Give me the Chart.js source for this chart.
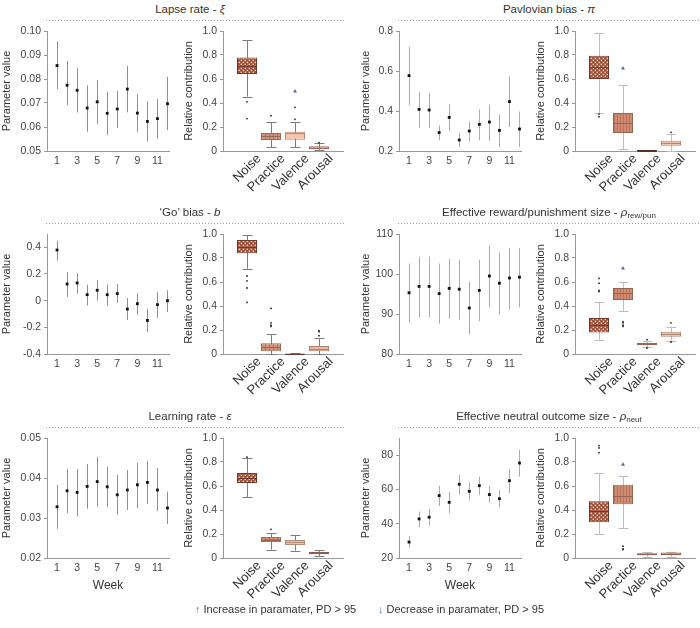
<!DOCTYPE html>
<html>
<head>
<meta charset="utf-8">
<script src="https://cdn.jsdelivr.net/npm/chart.js@4.4.1/dist/chart.umd.min.js"></script>
<style>
  body { margin: 0; width: 700px; height: 628px; position: relative; overflow: hidden; background: #fff;
         font-family: "Liberation Sans", Arial, sans-serif; color: #333; }
  canvas { position: absolute; }
  .title { position: absolute; font-size: 11.5px; line-height: 14px; white-space: nowrap; transform: translateX(-50%); }
  .title sub { font-size: 8px; line-height: 0; vertical-align: -2px; }
  .dash { position: absolute; height: 1px;
          background-image: linear-gradient(to right, #9a9a9a 50%, transparent 50%); background-size: 3px 1px; }
  .foot { position: absolute; top: 603px; font-size: 11px; line-height: 12px; white-space: nowrap; }
  .arr { color: #5a7aa0; }
</style>
</head>
<body>

<script>
// ---- data ----
const weeks = [1, 2, 3, 4, 5, 6, 7, 8, 9, 10, 11, 12];
const weekTicks = [1, 3, 5, 7, 9, 11];
const components = ['Noise', 'Practice', 'Valence', 'Arousal'];
const contribTicks = [0, 0.2, 0.4, 0.6, 0.8, 1.0];

// Lapse rate
const lapseTicks = [0.05, 0.06, 0.07, 0.08, 0.09, 0.10];
const lapseMean = [0.0856, 0.0774, 0.0753, 0.0679, 0.0705, 0.0657, 0.0675, 0.0758, 0.0658, 0.0623, 0.0635, 0.0697];
const lapseLow  = [0.0758, 0.0691, 0.0661, 0.0580, 0.0612, 0.0566, 0.0596, 0.0661, 0.0578, 0.0540, 0.0551, 0.0587];
const lapseHigh = [0.0957, 0.0875, 0.0845, 0.0774, 0.0795, 0.0747, 0.0751, 0.0855, 0.0737, 0.0706, 0.0716, 0.0809];
// box stats per component: [lower whisker, q1, median, q3, upper whisker]
const lapseBox = [[0.453, 0.642, 0.71, 0.78, 0.922], [0.031, 0.092, 0.122, 0.150, 0.239],
                  [0.033, 0.094, 0.147, 0.161, 0.239], [0.006, 0.017, 0.028, 0.039, 0.067]];
const lapseOutliers = [[1, 0.41], [1, 0.27], [2, 0.294], [3, 0.364], [3, 0.264], [4, 0.069]];
const lapseArrows = [[3, 0.497]];

// Pavlovian bias
const pavTicks = [0.2, 0.4, 0.6, 0.8];
const pavMean = [0.577, 0.408, 0.405, 0.292, 0.368, 0.255, 0.300, 0.333, 0.345, 0.303, 0.447, 0.310];
const pavLow  = [0.430, 0.315, 0.315, 0.253, 0.300, 0.220, 0.248, 0.253, 0.250, 0.220, 0.320, 0.220];
const pavHigh = [0.720, 0.498, 0.490, 0.328, 0.433, 0.290, 0.348, 0.408, 0.432, 0.383, 0.573, 0.398];
const pavBox = [[0.317, 0.600, 0.70, 0.794, 0.983], [0.014, 0.150, 0.231, 0.317, 0.550],
                [0.000, 0.001, 0.004, 0.008, 0.010], [0.000, 0.044, 0.069, 0.086, 0.142]];
const pavOutliers = [[1, 0.308], [1, 0.286], [4, 0.156]];
const pavArrows = [[2, 0.689]];

// 'Go' bias
const goTicks = [-0.4, -0.2, 0, 0.2, 0.4];
const goMean = [0.380, 0.125, 0.133, 0.045, 0.078, 0.045, 0.053, -0.063, -0.023, -0.148, -0.030, 0.000];
const goLow  = [0.300, 0.028, 0.053, -0.035, 0.000, -0.038, -0.018, -0.145, -0.105, -0.235, -0.130, -0.085];
const goHigh = [0.450, 0.215, 0.205, 0.120, 0.153, 0.123, 0.125, 0.020, 0.055, -0.060, 0.063, 0.078];
const goBox = [[0.71, 0.84, 0.89, 0.95, 0.99], [0.000, 0.022, 0.061, 0.089, 0.167],
               [0.000, 0.001, 0.002, 0.004, 0.006], [0.000, 0.022, 0.044, 0.067, 0.130]];
const goOutliers = [[1, 0.65], [1, 0.61], [1, 0.55], [1, 0.43], [2, 0.38], [2, 0.26], [2, 0.24], [2, 0.23],
                    [4, 0.186], [4, 0.194], [4, 0.153]];
const goArrows = [];

// Effective reward/punishment size
const rewTicks = [80, 90, 100, 110];
const rewMean = [95.3, 96.9, 96.9, 95.1, 96.4, 96.2, 91.5, 95.9, 99.5, 97.7, 99.0, 99.2];
const rewLow  = [87.8, 89.2, 89.2, 87.6, 88.8, 88.6, 84.8, 88.2, 91.7, 89.9, 91.1, 91.7];
const rewHigh = [102.6, 104.3, 104.4, 102.6, 103.8, 103.6, 98.2, 103.6, 107.1, 105.4, 106.5, 106.5];
const rewBox = [[0.117, 0.180, 0.240, 0.300, 0.436], [0.360, 0.450, 0.510, 0.550, 0.600],
                [0.056, 0.072, 0.083, 0.092, 0.110], [0.110, 0.144, 0.167, 0.186, 0.228]];
const rewOutliers = [[1, 0.63], [1, 0.59], [1, 0.53], [1, 0.52], [2, 0.27], [2, 0.26], [2, 0.24], [2, 0.23],
                     [3, 0.12], [3, 0.05], [4, 0.26], [4, 0.10]];
const rewArrows = [[2, 0.714]];

// Learning rate
const lrTicks = [0.02, 0.03, 0.04, 0.05];
const lrMean = [0.0328, 0.0368, 0.0364, 0.0379, 0.0391, 0.0378, 0.0358, 0.0370, 0.0383, 0.0389, 0.0370, 0.0325];
const lrLow  = [0.0273, 0.0312, 0.0304, 0.0323, 0.0328, 0.0327, 0.0308, 0.0320, 0.0325, 0.0335, 0.0317, 0.0285];
const lrHigh = [0.0383, 0.0423, 0.0423, 0.0435, 0.0453, 0.0428, 0.0408, 0.0420, 0.0438, 0.0443, 0.0425, 0.0366];
const lrBox = [[0.506, 0.625, 0.670, 0.708, 0.833], [0.069, 0.133, 0.153, 0.175, 0.206],
               [0.061, 0.108, 0.131, 0.150, 0.192], [0.017, 0.031, 0.040, 0.050, 0.067]];
const lrOutliers = [[1, 0.84], [2, 0.239]];
const lrArrows = [];

// Effective neutral outcome size
const neutTicks = [20, 40, 60, 80];
const neutMean = [29.3, 42.8, 43.8, 56.4, 52.5, 63.0, 58.9, 62.2, 57.0, 54.6, 65.1, 75.4];
const neutLow  = [26.0, 38.0, 39.0, 50.2, 46.1, 56.8, 53.5, 56.8, 52.1, 49.6, 57.9, 67.4];
const neutHigh = [32.6, 47.1, 48.6, 62.2, 58.7, 68.4, 64.1, 67.4, 62.0, 59.7, 71.9, 83.1];
const neutBox = [[0.201, 0.297, 0.390, 0.473, 0.708], [0.249, 0.447, 0.515, 0.610, 0.683],
                 [0.006, 0.022, 0.031, 0.039, 0.050], [0.008, 0.022, 0.034, 0.045, 0.053]];
const neutOutliers = [[1, 0.937], [1, 0.917], [1, 0.878], [2, 0.098], [2, 0.070], [2, 0.075]];
const neutArrows = [[2, 0.778]];

// ---- layout ----
const plotTops = [30.5, 233.5, 437.5];
const PLOT_H = 120;
const FONT = "'Liberation Sans', Arial, sans-serif";
Chart.defaults.font.family = FONT;
Chart.defaults.color = '#444';
Chart.defaults.animation = false;

function pattern(kind, base) {
  if (kind === 'plain') return base;
  const c = document.createElement('canvas');
  const g = c.getContext('2d');
  if (kind === 'dots') {
    c.width = 4; c.height = 4;
    g.fillStyle = base; g.fillRect(0, 0, 4, 4);
    g.fillStyle = '#f3d2ba';
    g.fillRect(0.6, 0.6, 1.5, 1.5);
    g.fillRect(2.6, 2.6, 1.5, 1.5);
  } else if (kind === 'grid') {
    c.width = 4; c.height = 4;
    g.fillStyle = base; g.fillRect(0, 0, 4, 4);
    g.fillStyle = 'rgba(140,70,50,0.45)';
    g.fillRect(3, 0, 1, 4); g.fillRect(0, 3, 4, 1);
  } else if (kind === 'stripes') {
    c.width = 3; c.height = 3;
    g.fillStyle = base; g.fillRect(0, 0, 3, 3);
    g.fillStyle = 'rgba(140,70,50,0.35)';
    g.fillRect(2, 0, 1, 3);
  }
  return g.createPattern(c, 'repeat');
}

const NOISE = ['dots', '#9d4f39'];
const panels = [
  { col: 0, row: 0, mean: lapseMean, low: lapseLow, high: lapseHigh, ticks: lapseTicks,
    yMin: 0.05, yMax: 0.10, fmt: v => v.toFixed(2), box: lapseBox, out: lapseOutliers, arrows: lapseArrows,
    fills: [NOISE, ['grid', '#d4937a'], ['plain', '#f8c3a8'], ['plain', '#d9927a']] },
  { col: 1, row: 0, mean: pavMean, low: pavLow, high: pavHigh, ticks: pavTicks,
    yMin: 0.2, yMax: 0.8, fmt: v => v.toFixed(1), box: pavBox, out: pavOutliers, arrows: pavArrows,
    fills: [NOISE, ['stripes', '#d08c72'], ['plain', '#7b4535'], ['plain', '#f6bea4']] },
  { col: 0, row: 1, mean: goMean, low: goLow, high: goHigh, ticks: goTicks,
    yMin: -0.4, yMax: 0.5, fmt: v => (v === 0 ? '0' : v.toFixed(1)), box: goBox, out: goOutliers, arrows: goArrows,
    fills: [NOISE, ['grid', '#d4937a'], ['plain', '#8a4f3d'], ['plain', '#f3b49a']] },
  { col: 1, row: 1, mean: rewMean, low: rewLow, high: rewHigh, ticks: rewTicks,
    yMin: 80, yMax: 110, fmt: v => String(v), box: rewBox, out: rewOutliers, arrows: rewArrows,
    fills: [NOISE, ['stripes', '#d08c72'], ['plain', '#d38f76'], ['plain', '#f5bba0']] },
  { col: 0, row: 2, mean: lrMean, low: lrLow, high: lrHigh, ticks: lrTicks,
    yMin: 0.02, yMax: 0.05, fmt: v => v.toFixed(2), box: lrBox, out: lrOutliers, arrows: lrArrows,
    fills: [NOISE, ['grid', '#d9987e'], ['plain', '#f6bfa4'], ['plain', '#cd8068']] },
  { col: 1, row: 2, mean: neutMean, low: neutLow, high: neutHigh, ticks: neutTicks,
    yMin: 20, yMax: 90, fmt: v => String(v), box: neutBox, out: neutOutliers, arrows: neutArrows,
    fills: [NOISE, ['stripes', '#d08c72'], ['plain', '#cd8068'], ['plain', '#cd8068']] }
];

const titles = [
  ['Lapse rate - <i>ξ</i>', 'Pavlovian bias - <i>π</i>'],
  ['‘Go’ bias - <i>b</i>', 'Effective reward/punishment size - <i>ρ</i><sub>rew/pun</sub>'],
  ['Learning rate - <i>ε</i>', 'Effective neutral outcome size - <i>ρ</i><sub>neut</sub>']
];

// column geometry
const scatterLeft = [0, 359], scatterYW = [47, 40];
const boxLeft = [182, 534], boxYW = [41, 41];
const errColor = ['#8f8f8f', '#ababab'];
const whiskColor = ['#7d7d7d', '#bdbdbd'];

function darken(hex, f) {
  const n = parseInt(hex.slice(1), 16);
  const r = Math.round(((n >> 16) & 255) * f), g = Math.round(((n >> 8) & 255) * f), b = Math.round((n & 255) * f);
  return `rgb(${r},${g},${b})`;
}

function addCanvas(left, top, w, h) {
  const c = document.createElement('canvas');
  c.width = w; c.height = h;
  c.style.left = left + 'px'; c.style.top = top + 'px';
  document.body.appendChild(c);
  return c;
}

function addDiv(cls, html, css) {
  const d = document.createElement('div');
  d.className = cls; d.innerHTML = html;
  Object.assign(d.style, css);
  document.body.appendChild(d);
}

const axisLine = { display: true, color: '#999', width: 1 };

// vertical range lines (error bars / whiskers) with optional caps, placed through the chart scales
const rangeLines = {
  id: 'rangeLines',
  beforeDatasetsDraw(chart, args, opts) {
    if (!opts.xs) return;
    const { ctx, scales: { x, y } } = chart;
    ctx.save();
    ctx.lineWidth = 1;
    ctx.strokeStyle = opts.color;
    opts.xs.forEach((xv, i) => {
      const px = Math.round(x.getPixelForValue(xv)) + 0.5;
      const y0 = y.getPixelForValue(opts.low[i]), y1 = y.getPixelForValue(opts.high[i]);
      ctx.beginPath(); ctx.moveTo(px, y0); ctx.lineTo(px, y1); ctx.stroke();
      if (opts.cap) {
        [y0, y1].forEach(py => {
          const yy = Math.round(py) + 0.5;
          ctx.beginPath(); ctx.moveTo(px - opts.cap, yy); ctx.lineTo(px + opts.cap, yy); ctx.stroke();
        });
      }
    });
    ctx.restore();
  },
  afterDatasetsDraw(chart, args, opts) {
    if (!opts.median) return;
    const { ctx, scales: { x, y } } = chart;
    ctx.save();
    ctx.lineWidth = 1;
    opts.xs.forEach((xv, i) => {
      const px = x.getPixelForValue(xv);
      const my = Math.round(y.getPixelForValue(opts.median[i])) + 0.5;
      ctx.strokeStyle = opts.medianColor[i];
      ctx.beginPath(); ctx.moveTo(px - 9.5, my); ctx.lineTo(px + 9.5, my); ctx.stroke();
    });
    ctx.restore();
  }
};

panels.forEach(p => {
  const top = plotTops[p.row];
  const col = p.col;

  // scatter: weekly means with intervals
  const sw = scatterYW[col] + 122 + 6;
  const sc = addCanvas(scatterLeft[col], top - 10, sw, 10 + PLOT_H + 45);
  new Chart(sc, {
    type: 'scatter',
    data: {
      datasets: [
        { data: weeks.map((w, i) => ({ x: w, y: p.mean[i] })), pointStyle: 'rect', pointRadius: 2,
          backgroundColor: '#111', borderWidth: 0, clip: false }
      ]
    },
    plugins: [rangeLines],
    options: {
      responsive: false,
      layout: { padding: { top: 10, right: 6, left: 0, bottom: 0 } },
      plugins: { legend: { display: false }, tooltip: { enabled: false },
                 rangeLines: { xs: weeks, low: p.low, high: p.high, color: errColor[col], cap: 0 } },
      scales: {
        x: { type: 'linear', min: 0, max: 12.15, offset: false,
             afterBuildTicks: s => { s.ticks = weekTicks.map(v => ({ value: v })); },
             afterFit: s => { s.height = 45; },
             ticks: { callback: v => String(v), padding: 4, font: { size: 10.5 }, color: '#444', autoSkip: false },
             grid: { display: false, drawTicks: false }, border: axisLine,
             title: { display: p.row === 2, text: 'Week', font: { size: 12 }, color: '#333', padding: { top: 0, bottom: 10 } } },
        y: { min: p.yMin, max: p.yMax,
             afterBuildTicks: s => { s.ticks = p.ticks.map(v => ({ value: v })); },
             afterFit: s => { s.width = scatterYW[col]; },
             ticks: { callback: p.fmt, padding: 3, font: { size: 10.5 }, color: '#444' },
             grid: { display: true, drawOnChartArea: false, drawTicks: true, tickLength: 3, color: '#999' },
             border: axisLine,
             title: { display: true, text: 'Parameter value', font: { size: 11 }, color: '#333', padding: 0 } }
      }
    }
  });

  // box plot: relative contributions
  const bw = boxYW[col] + 120 + 4;
  const bc = addCanvas(boxLeft[col], top - 10, bw, 10 + PLOT_H + 62);
  const fills = p.fills.map(f => pattern(f[0], f[1]));
  const borders = p.fills.map(f => darken(f[1], 0.72));
  const xs = components.map((c, i) => i + 1);
  new Chart(bc, {
    type: 'scatter',
    data: {
      datasets: [
        { type: 'bar', data: p.box.map((s, i) => ({ x: xs[i], y: [s[1], s[3]] })),
          backgroundColor: fills, borderColor: borders, borderWidth: 1, borderSkipped: false,
          barThickness: 20, grouped: false, inflateAmount: 0, order: 2 },
        { data: p.out.map(o => ({ x: o[0], y: o[1] })), pointRadius: 0.9, backgroundColor: '#222',
          borderWidth: 0, order: 1 },
        { data: p.arrows.map(o => ({ x: o[0], y: o[1] })), pointStyle: 'triangle', pointRadius: 2.3,
          backgroundColor: '#4f6d96', borderWidth: 0, order: 0 }
      ]
    },
    plugins: [rangeLines],
    options: {
      responsive: false,
      layout: { padding: { top: 10, right: 4, left: 0, bottom: 0 } },
      plugins: { legend: { display: false }, tooltip: { enabled: false },
                 rangeLines: { xs: xs, low: p.box.map(s => s[0]), high: p.box.map(s => s[4]),
                               color: whiskColor[col], cap: 5,
                               median: p.box.map(s => s[2]), medianColor: borders } },
      scales: {
        x: { type: 'linear', min: 0, max: 5, offset: false,
             afterBuildTicks: s => { s.ticks = xs.map(v => ({ value: v })); },
             afterFit: s => { s.height = 62; },
             ticks: { callback: v => components[v - 1], minRotation: 45, maxRotation: 45, autoSkip: false,
                      padding: 0, labelOffset: 12, font: { size: 13 }, color: '#333' },
             grid: { display: false, drawTicks: false }, border: axisLine },
        y: { min: 0, max: 1,
             afterBuildTicks: s => { s.ticks = contribTicks.map(v => ({ value: v })); },
             afterFit: s => { s.width = boxYW[col]; },
             ticks: { callback: v => (v === 0 ? '0' : v.toFixed(1)), padding: 3, font: { size: 10.5 }, color: '#444' },
             grid: { display: true, drawOnChartArea: false, drawTicks: true, tickLength: 3, color: '#999' },
             border: axisLine,
             title: { display: true, text: 'Relative contribution', font: { size: 11 }, color: '#333', padding: 0 } }
      }
    }
  });
});

// panel titles and dotted separators
plotTops.forEach((t, r) => {
  addDiv('title', titles[r][0], { left: '190px', top: (t - 29) + 'px' });
  addDiv('title', titles[r][1], { left: '549px', top: (t - 29) + 'px' });
  addDiv('dash', '', { left: '46px', width: '298px', top: (t - 11) + 'px' });
  addDiv('dash', '', { left: '398px', width: '302px', top: (t - 11) + 'px' });
});

addDiv('foot', '<span class="arr">↑</span> Increase in paramater, PD &gt; 95', { left: '195px' });
addDiv('foot', '<span class="arr">↓</span> Decrease in paramater, PD &gt; 95', { left: '378px' });
</script>
</body>
</html>
